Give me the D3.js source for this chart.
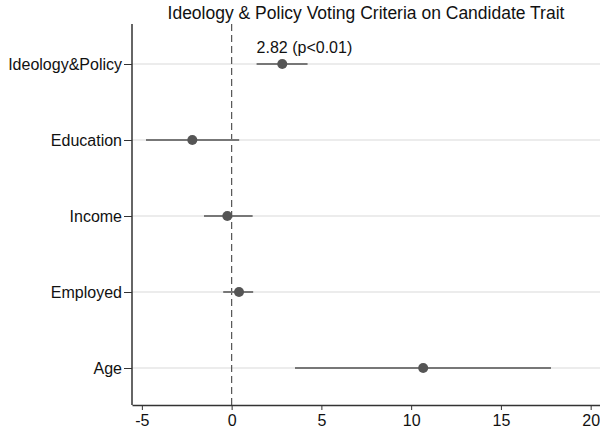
<!DOCTYPE html>
<html>
<head>
<meta charset="utf-8">
<script src="https://cdn.jsdelivr.net/npm/d3@7"></script>
<style>
  html, body { margin: 0; padding: 0; background: #fff; }
  svg { display: block; font-family: "Liberation Sans", Arial, Helvetica, sans-serif; }
</style>
</head>
<body>
<svg id="chart" width="600" height="430"></svg>
<script>
// Coefficient estimates with 95% confidence intervals
const categories = ["Ideology&Policy", "Education", "Income", "Employed", "Age"];
const estimates  = [2.82, -2.19, -0.24, 0.41, 10.67];
const ciLow      = [1.39, -4.77, -1.54, -0.47, 3.53];
const ciHigh     = [4.23, 0.42, 1.17, 1.20, 17.79];
const xTicks     = [-5, 0, 5, 10, 15, 20];
const annotation = "2.82 (p<0.01)";
const titleText  = "Ideology & Policy Voting Criteria on Candidate Trait";

const svg = d3.select("#chart");
const plot = { left: 132, right: 600, top: 24, bottom: 405 };

const x = d3.scaleLinear()
  .domain([-5.55, 20.52])
  .range([plot.left, plot.right]);

const y = d3.scalePoint()
  .domain(categories)
  .range([64, 368]);

// Title
svg.append("text")
  .attr("x", 366).attr("y", 18.5)
  .attr("text-anchor", "middle")
  .attr("font-size", 17.5)
  .attr("fill", "#111")
  .text(titleText);

// Horizontal grid lines at each category
svg.append("g").selectAll("line")
  .data(categories)
  .join("line")
  .attr("x1", plot.left).attr("x2", plot.right)
  .attr("y1", d => y(d)).attr("y2", d => y(d))
  .attr("stroke", "#e6e6e6").attr("stroke-width", 1.5);

// Reference line at zero
svg.append("line")
  .attr("x1", x(0)).attr("x2", x(0))
  .attr("y1", plot.top).attr("y2", plot.bottom)
  .attr("stroke", "#555").attr("stroke-width", 1.2)
  .attr("stroke-dasharray", "7,4");

// X axis (plain hyphen for negative labels)
const xAxis = svg.append("g")
  .attr("transform", `translate(0,${plot.bottom})`)
  .call(d3.axisBottom(x).tickValues(xTicks).tickSize(5).tickPadding(5)
    .tickSizeOuter(0).tickFormat(d => String(d)));
xAxis.select(".domain").attr("stroke", "#333").attr("stroke-width", 1.5);
xAxis.selectAll(".tick line").attr("stroke", "#333");
xAxis.selectAll(".tick text").attr("font-size", 16).attr("fill", "#111")
  .attr("font-family", "Liberation Sans, Arial, sans-serif");

// Y axis
const yAxis = svg.append("g")
  .attr("transform", `translate(${plot.left},0)`)
  .call(d3.axisLeft(y).tickSize(8).tickPadding(2).tickSizeOuter(0));
yAxis.select(".domain").remove();
yAxis.append("line")
  .attr("x1", 0).attr("x2", 0)
  .attr("y1", plot.top).attr("y2", plot.bottom)
  .attr("stroke", "#333").attr("stroke-width", 1.5);
yAxis.selectAll(".tick line").attr("stroke", "#333");
yAxis.selectAll(".tick text").attr("font-size", 16).attr("fill", "#111")
  .attr("font-family", "Liberation Sans, Arial, sans-serif");

// Confidence intervals and point estimates
const rows = categories.map((c, i) => ({ c, est: estimates[i], lo: ciLow[i], hi: ciHigh[i] }));

svg.append("g").selectAll("line")
  .data(rows)
  .join("line")
  .attr("x1", d => x(d.lo)).attr("x2", d => x(d.hi))
  .attr("y1", d => y(d.c)).attr("y2", d => y(d.c))
  .attr("stroke", "#777").attr("stroke-width", 2);

svg.append("g").selectAll("circle")
  .data(rows)
  .join("circle")
  .attr("cx", d => x(d.est)).attr("cy", d => y(d.c))
  .attr("r", 5)
  .attr("fill", "#555");

// Label on the first estimate
svg.append("text")
  .attr("x", x(ciLow[0]))
  .attr("y", 53)
  .attr("font-size", 16).attr("fill", "#111")
  .text(annotation);
</script>
</body>
</html>
